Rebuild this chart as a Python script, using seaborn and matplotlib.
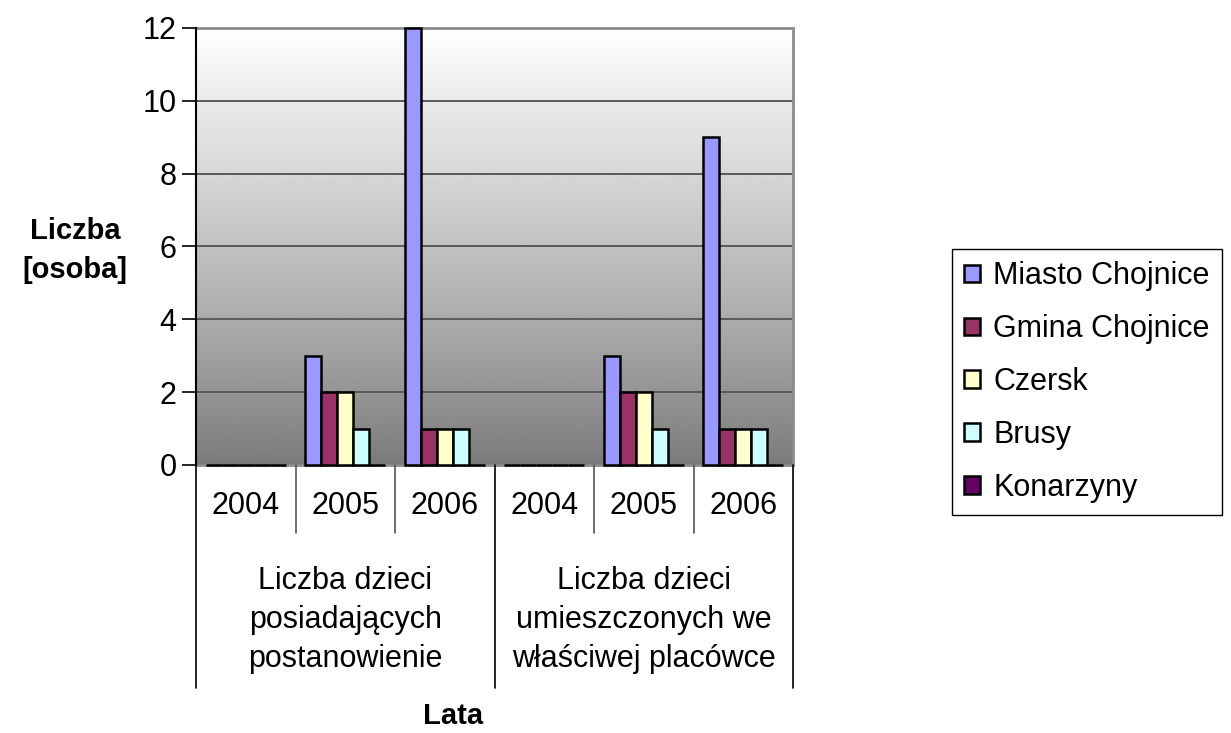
import matplotlib
matplotlib.use('Agg')
import matplotlib.pyplot as plt
import matplotlib.transforms as mtransforms
import seaborn as sns
import numpy as np
import pandas as pd

# Data
groups = ['Liczba dzieci\nposiadających\npostanowienie',
          'Liczba dzieci\numieszczonych we\nwłaściwej placówce']
years = ['2004', '2005', '2006']
series = ['Miasto Chojnice', 'Gmina Chojnice', 'Czersk', 'Brusy', 'Konarzyny']
miasto_chojnice = [0, 3, 12, 0, 3, 9]
gmina_chojnice = [0, 2, 1, 0, 2, 1]
czersk = [0, 2, 1, 0, 2, 1]
brusy = [0, 1, 1, 0, 1, 1]
konarzyny = [0, 0, 0, 0, 0, 0]
colors = ['#9999FF', '#993366', '#FFFFCC', '#CCFFFF', '#660066']

# long table for seaborn
positions = [f'{g}|{y}' for g in range(len(groups)) for y in years]
rows = []
for name, vals in zip(series, [miasto_chojnice, gmina_chojnice, czersk, brusy, konarzyny]):
    for pos, v in zip(positions, vals):
        rows.append({'poz': pos, 'val': v, 'gmina': name})
df = pd.DataFrame(rows)

sns.set_style('white')
plt.rcParams['font.family'] = ['Liberation Sans', 'DejaVu Sans']
plt.rcParams['text.color'] = 'black'
plt.rcParams['ytick.color'] = 'black'

W, H = 1231, 733
fig = plt.figure(figsize=(W / 100, H / 100), dpi=100)
ax = fig.add_axes([196 / W, 1 - 465 / H, (793 - 196) / W, (465 - 28) / H])

sns.barplot(data=df, x='poz', y='val', hue='gmina', order=positions, hue_order=series,
            palette=colors, saturation=1, edgecolor='black', linewidth=1.8,
            width=0.8, ax=ax, zorder=3)
for p in ax.patches:
    p.set_clip_on(False)

n = len(positions)

# gradient back wall: dark grey at the floor, white at the top
grad = 0.48 + 0.52 * np.linspace(0, 1, 256).reshape(-1, 1) ** 0.9
ax.imshow(grad, extent=[-0.5, n - 0.5, 0, 12], origin='lower', aspect='auto',
          cmap='gray', vmin=0, vmax=1, zorder=-2, interpolation='bilinear')
ax.set_xlim(-0.5, n - 0.5)
ax.set_ylim(0, 12)

ax.set_yticks(range(0, 13, 2))
ax.yaxis.grid(True, color='#5a5a5a', linewidth=1.4)
ax.set_axisbelow(True)
ax.tick_params(axis='y', labelsize=22, length=10, width=1.2, color='black', pad=4, left=True)
ax.set_xticks([])
ax.set_xlabel('')
ax.set_ylabel('')
for side in ['top', 'right', 'bottom']:
    ax.spines[side].set_color('#8c8c8c')
    ax.spines[side].set_linewidth(2)
    ax.spines[side].set_zorder(1)
ax.spines['left'].set_color('black')
ax.spines['left'].set_linewidth(1.5)

# category table under the axis
tr = mtransforms.blended_transform_factory(ax.transData, fig.transFigure)
for i in range(n):
    ax.text(i, 1 - 506 / H, years[i % 3], transform=tr, ha='center', va='center', fontsize=22)
for i in range(n + 1):
    x = i - 0.5
    if i % 3 == 0:
        ax.plot([x, x], [1 - 465 / H, 1 - 688 / H], transform=tr, color='black',
                lw=1.2, clip_on=False)
    else:
        ax.plot([x, x], [1 - 465 / H, 1 - 533 / H], transform=tr, color='#555555',
                lw=1.2, clip_on=False)
for g, label in enumerate(groups):
    ax.text(g * 3 + 1, 1 - 620 / H, label, transform=tr, ha='center', va='center',
            fontsize=22, linespacing=1.4)

fig.text(75 / W, 1 - 250 / H, 'Liczba\n[osoba]', ha='center', va='center',
         fontsize=21, fontweight='bold', linespacing=1.5)
fig.text(453 / W, 1 - 716 / H, 'Lata', ha='center', va='center', fontsize=21,
         fontweight='bold')

# legend
handles, labels = ax.get_legend_handles_labels()
ax.get_legend().remove()
leg = fig.legend(handles, labels, loc='upper left', bbox_to_anchor=(952 / W, 1 - 249 / H),
                 fontsize=22, frameon=True, fancybox=False, framealpha=1,
                 handlelength=0.5, handleheight=0.5, handletextpad=0.45,
                 labelspacing=0.75, borderpad=0.4, borderaxespad=0)
leg.get_frame().set_edgecolor('black')
leg.get_frame().set_linewidth(1)
for h in leg.legend_handles:
    h.set_linewidth(1.8)

fig.savefig('out.png', dpi=100)
